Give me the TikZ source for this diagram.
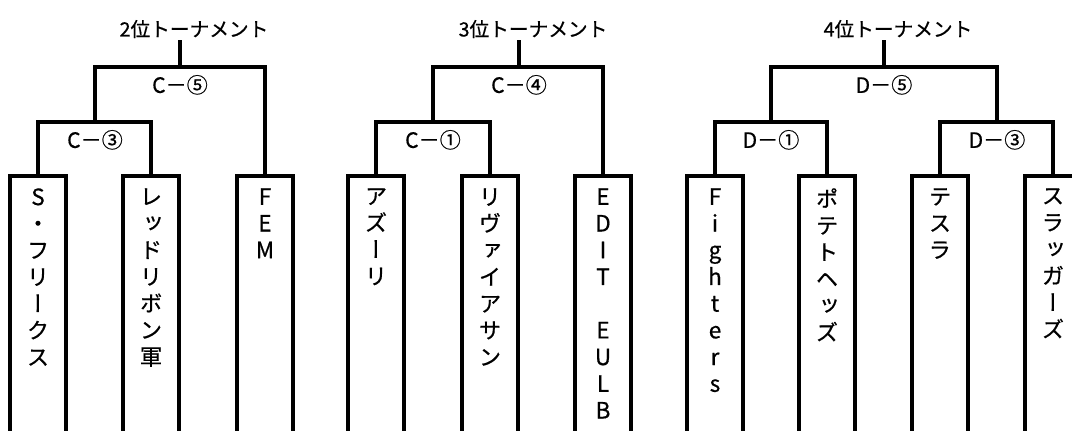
\documentclass[tikz,border=0pt]{standalone}
\usepackage{fontspec}
\setmainfont[FakeBold=0.6]{Noto Sans CJK JP}
\newfontfamily\tatefont[RawFeature=+vert,FakeBold=0.6]{Noto Sans CJK JP}
\usepackage{tikz}
\usetikzlibrary{positioning}

\begin{document}
\begin{tikzpicture}
  [
    x=0.025cm, y=-0.025cm,
    team/.style={
       draw=black,
       line width=2.6pt,
       outer sep=0pt,
       minimum width=1.4cm,
       minimum height=6.8cm,
       anchor=north
    },
    teamname/.style={
       anchor=north,
       inner sep=0pt,
       align=center,
       font=\tatefont\fontsize{16pt}{19pt}\selectfont
    },
    title/.style={
       inner sep=1pt,
       font=\fontsize{14pt}{16pt}\selectfont
    },
    match/.style={
       inner sep=1pt,
       font=\fontsize{15pt}{17pt}\selectfont
    },
    bracket/.style={
       draw=black,
       line width=2.6pt
    }
  ]
  \useasboundingbox (0,0) rectangle (1072,430);

  % teams
  \node (b01) at (  38,176) [team] {};
  \node (b02) at ( 151,176) [team] {};
  \node (b03) at ( 265,176) [team] {};
  \node (b04) at ( 376,176) [team] {};
  \node (b05) at ( 490,176) [team] {};
  \node (b06) at ( 603,176) [team] {};
  \node (b07) at ( 715,176) [team] {};
  \node (b08) at ( 827,176) [team] {};
  \node (b09) at ( 940,176) [team] {};
  \node (b10) at (1053,176) [team] {};

  \node (n01) at (  38,188) [teamname] {S\\・\\フ\\リ\\ー\\ク\\ス};
  \node (n02) at ( 151,188) [teamname] {レ\\ッ\\ド\\リ\\ボ\\ン\\軍};
  \node (n03) at ( 265,188) [teamname] {F\\E\\M};
  \node (n04) at ( 376,188) [teamname] {ア\\ズ\\ー\\リ};
  \node (n05) at ( 490,188) [teamname] {リ\\ヴ\\ァ\\イ\\ア\\サ\\ン};
  \node (n06) at ( 603,188) [teamname] {E\\D\\I\\T\\~\\E\\U\\L\\B};
  \node (n07) at ( 715,188) [teamname] {F\\i\\g\\h\\t\\e\\r\\s};
  \node (n08) at ( 827,188) [teamname] {ポ\\テ\\ト\\ヘ\\ッ\\ズ};
  \node (n09) at ( 940,188) [teamname] {テ\\ス\\ラ};
  \node (n10) at (1053,188) [teamname] {ス\\ラ\\ッ\\ガ\\ー\\ズ};

  % junctions
  \coordinate (jc3) at (  95,122);
  \coordinate (jc5) at ( 180, 67);
  \coordinate (jc1) at ( 433,122);
  \coordinate (jc4) at ( 519, 67);
  \coordinate (jd1) at ( 771,122);
  \coordinate (jd3) at ( 997,122);
  \coordinate (jd5) at ( 884, 67);

  % titles
  \node (t2) at ( 194,29) [title] {2位トーナメント};
  \node (t3) at ( 533,29) [title] {3位トーナメント};
  \node (t4) at ( 898,29) [title] {4位トーナメント};

  % brackets
  \draw [bracket] (b01.north) |- (jc3) -| (b02.north);
  \draw [bracket] (jc3) |- (jc5) -| (b03.north);
  \draw [bracket] (jc5) -- (jc5 |- t2.south);

  \draw [bracket] (b04.north) |- (jc1) -| (b05.north);
  \draw [bracket] (jc1) |- (jc4) -| (b06.north);
  \draw [bracket] (jc4) -- (jc4 |- t3.south);

  \draw [bracket] (b07.north) |- (jd1) -| (b08.north);
  \draw [bracket] (b09.north) |- (jd3) -| (b10.north);
  \draw [bracket] (jd1) |- (jd5) -| (jd3);
  \draw [bracket] (jd5) -- (jd5 |- t4.south);

  % match labels
  \node (mc3) [match, below=4.5pt of jc3] {C－③};
  \node (mc5) [match, below=4.5pt of jc5] {C－⑤};
  \node (mc1) [match, below=4.5pt of jc1] {C－①};
  \node (mc4) [match, below=4.5pt of jc4] {C－④};
  \node (md1) [match, below=4.5pt of jd1] {D－①};
  \node (md3) [match, below=4.5pt of jd3] {D－③};
  \node (md5) [match, below=4.5pt of jd5] {D－⑤};
\end{tikzpicture}
\end{document}
